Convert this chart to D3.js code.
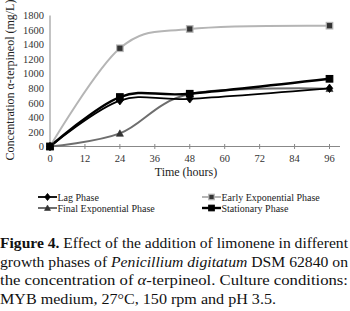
<!DOCTYPE html>
<html>
<head>
<meta charset="utf-8">
<script src="https://cdn.jsdelivr.net/npm/d3@7"></script>
<style>
  html, body { margin: 0; padding: 0; background: #fff; }
  #container { width: 350px; height: 311px; }
  text { font-family: "Liberation Serif", "DejaVu Serif", serif; }
</style>
</head>
<body>
<div id="container"></div>
<script>
const width = 350, height = 311;

// --- Data ---
const hours = [0, 24, 48, 96];
const lagPhase = [0, 630, 655, 800];
const earlyExp = [0, 1350, 1615, 1660];
const finalExp = [0, 180, 720, 795];
const stationary = [0, 680, 725, 930];
const xTicks = [0, 12, 24, 36, 48, 60, 72, 84, 96];
const yTicks = [0, 200, 400, 600, 800, 1000, 1200, 1400, 1600, 1800];

const series = [
  { name: "Lag Phase", values: lagPhase, color: "#000", w: 1.8, marker: "diamond", fill: "#000" },
  { name: "Early Exponential Phase", values: earlyExp, color: "#b5b5b5", w: 2, marker: "square", fill: "#333" },
  { name: "Final Exponential Phase", values: finalExp, color: "#6e6e6e", w: 2, marker: "triangle", fill: "#333" },
  { name: "Stationary Phase", values: stationary, color: "#000", w: 2.4, marker: "square", fill: "#000" }
];

const svg = d3.select("#container").append("svg")
  .attr("width", width).attr("height", height);

const x = d3.scaleLinear().domain([0, 96]).range([50, 329.5]);
const y = d3.scaleLinear().domain([0, 1800]).range([146.5, 15.5]);

// --- Axes ---
svg.append("line")
  .attr("x1", 50).attr("x2", 50).attr("y1", y(1800)).attr("y2", y(0))
  .attr("stroke", "#888").attr("stroke-width", 1);
svg.append("line")
  .attr("x1", 50).attr("x2", 340).attr("y1", y(0)).attr("y2", y(0))
  .attr("stroke", "#888").attr("stroke-width", 1);

svg.selectAll("line.xt").data(xTicks.slice(1)).join("line")
  .attr("class", "xt")
  .attr("x1", d => x(d)).attr("x2", d => x(d))
  .attr("y1", y(0) - 2.5).attr("y2", y(0) + 2.5)
  .attr("stroke", "#888");

svg.selectAll("text.xl").data(xTicks).join("text")
  .attr("class", "xl")
  .attr("x", d => x(d)).attr("y", 162)
  .attr("text-anchor", "middle").attr("fill", "#333")
  .style("font-size", "10.5px")
  .text(d => d);

svg.selectAll("text.yl").data(yTicks).join("text")
  .attr("class", "yl")
  .attr("x", 44).attr("y", d => y(d)).attr("dy", "0.35em")
  .attr("text-anchor", "end").attr("fill", "#333")
  .style("font-size", "10.5px")
  .text(d => d);

svg.append("text")
  .attr("x", 186).attr("y", 176)
  .attr("text-anchor", "middle").attr("fill", "#222")
  .style("font-size", "12px")
  .text("Time (hours)");

svg.append("text")
  .attr("transform", "rotate(-90)")
  .attr("x", -80).attr("y", 14)
  .attr("text-anchor", "middle").attr("fill", "#222")
  .style("font-size", "12px")
  .text("Concentration α-terpineol (mg/L)");

// --- Lines ---
const line = d3.line()
  .x((d, i) => x(hours[i]))
  .y(d => y(d))
  .curve(d3.curveCardinal.tension(0));

const drawMarker = (g, s, cx, cy, size) => {
  if (s.marker === "diamond") {
    g.append("path")
      .attr("d", `M${cx},${cy - size * 0.65}L${cx + size * 0.5},${cy}L${cx},${cy + size * 0.65}L${cx - size * 0.5},${cy}Z`)
      .attr("fill", s.fill).attr("stroke", s.color).attr("stroke-width", 0.8);
  } else if (s.marker === "triangle") {
    g.append("path")
      .attr("d", `M${cx},${cy - size * 0.55}L${cx + size * 0.55},${cy + size * 0.45}L${cx - size * 0.55},${cy + size * 0.45}Z`)
      .attr("fill", s.fill).attr("stroke", s.fill).attr("stroke-width", 0.6);
  } else {
    g.append("rect")
      .attr("x", cx - size / 2).attr("y", cy - size / 2)
      .attr("width", size).attr("height", size)
      .attr("fill", s.fill).attr("stroke", s.color).attr("stroke-width", 1.2);
  }
};

const drawOrder = [1, 2, 0, 3];
drawOrder.forEach(k => {
  const s = series[k];
  svg.append("path")
    .datum(s.values)
    .attr("d", line)
    .attr("fill", "none")
    .attr("stroke", s.color)
    .attr("stroke-width", s.w);
});
drawOrder.forEach(k => {
  const s = series[k];
  const g = svg.append("g");
  s.values.forEach((v, i) => drawMarker(g, s, x(hours[i]), y(v), 6.5));
});

// --- Legend ---
const legendPos = [
  { x: 38, y: 197 },
  { x: 202, y: 197 },
  { x: 38, y: 208 },
  { x: 202, y: 208 }
];
series.forEach((s, i) => {
  const p = legendPos[i];
  const g = svg.append("g");
  g.append("line")
    .attr("x1", p.x).attr("x2", p.x + 19).attr("y1", p.y).attr("y2", p.y)
    .attr("stroke", s.color).attr("stroke-width", s.w);
  drawMarker(g, s, p.x + 9.5, p.y, 5.5);
  g.append("text")
    .attr("x", p.x + 19.5).attr("y", p.y).attr("dy", "0.35em")
    .attr("fill", "#222").style("font-size", "10px")
    .text(s.name);
});

// --- Caption ---
const cap = svg.append("g").attr("fill", "#111").style("font-size", "15.5px");
const l1 = cap.append("text").attr("x", 0).attr("y", 248)
  .attr("textLength", 348).attr("lengthAdjust", "spacingAndGlyphs");
l1.append("tspan").style("font-weight", "bold").text("Figure 4.");
l1.append("tspan").text(" Effect of the addition of limonene in different");

const l2 = cap.append("text").attr("x", 0).attr("y", 266.5)
  .attr("textLength", 348).attr("lengthAdjust", "spacingAndGlyphs");
l2.append("tspan").text("growth phases of  ");
l2.append("tspan").style("font-style", "italic").text("Penicillium digitatum");
l2.append("tspan").text(" DSM 62840 on");

const l3 = cap.append("text").attr("x", 0).attr("y", 285)
  .attr("textLength", 348).attr("lengthAdjust", "spacingAndGlyphs");
l3.append("tspan").text("the concentration of ");
l3.append("tspan").style("font-style", "italic").text("α");
l3.append("tspan").text("-terpineol. Culture conditions:");

cap.append("text").attr("x", 0).attr("y", 303.5)
  .attr("textLength", 276).attr("lengthAdjust", "spacingAndGlyphs")
  .text("MYB medium, 27°C, 150 rpm and pH 3.5.");
</script>
</body>
</html>
